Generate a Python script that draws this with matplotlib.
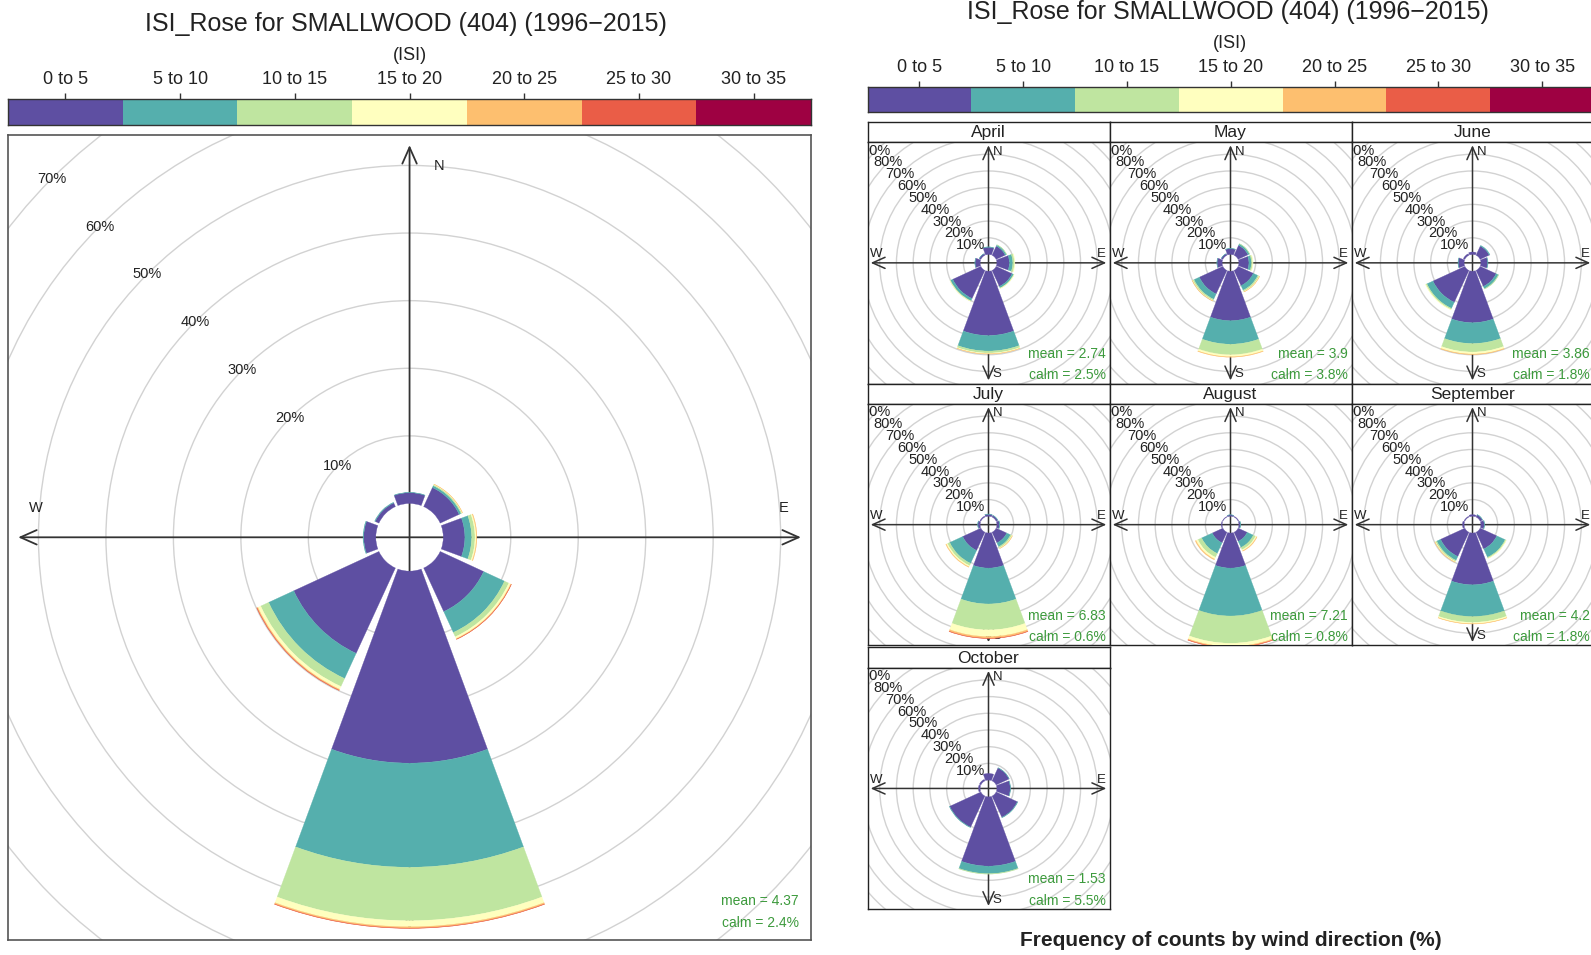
import matplotlib
matplotlib.use("Agg")
import matplotlib.pyplot as plt
from matplotlib.patches import Wedge, Circle
import numpy as np

plt.rcParams['font.family'] = ['Liberation Sans', 'DejaVu Sans']

# ---------------- data ----------------
directions = ["N", "NE", "E", "SE", "S", "SW", "W", "NW"]
bearings = [0, 45, 90, 135, 180, 225, 270, 315]
isi_bins = ["0 to 5", "5 to 10", "10 to 15", "15 to 20", "20 to 25", "25 to 30", "30 to 35"]
bin_colors = ["#5E4FA2", "#55AFAD", "#BFE5A0", "#FFFFBF", "#FDBF6F", "#EA5D47", "#9E0142"]

# frequency (%) per direction (rows N..NW) and ISI class (columns)
freq_all = [
    [1.6, 0.05, 0, 0, 0, 0, 0],
    [3.1, 0.3, 0.15, 0.08, 0.03, 0, 0],
    [3.2, 1.0, 0.5, 0.2, 0.08, 0, 0],
    [7.1, 3.4, 0.7, 0.3, 0.1, 0.03, 0],
    [28.4, 15.4, 7.9, 0.9, 0.2, 0.05, 0],
    [13.9, 4.1, 1.3, 0.45, 0.15, 0.05, 0],
    [1.8, 0.1, 0, 0, 0, 0, 0],
    [0.6, 0.1, 0, 0, 0, 0, 0],
]
freq_apr = [
    [4.3, 0.3, 0, 0, 0, 0, 0],
    [6.0, 0.8, 0.2, 0, 0, 0, 0],
    [7.5, 2.0, 1.0, 0.3, 0, 0, 0],
    [10.5, 1.0, 0.3, 0.1, 0, 0, 0],
    [38.5, 9.3, 1.2, 0.5, 0.1, 0, 0],
    [18.5, 1.5, 0.3, 0.1, 0, 0, 0],
    [3.0, 0.2, 0, 0, 0, 0, 0],
    [1.0, 0.1, 0, 0, 0, 0, 0],
]
freq_may = [
    [3.5, 0.2, 0, 0, 0, 0, 0],
    [6.5, 1.0, 0.2, 0, 0, 0, 0],
    [6.0, 1.5, 0.7, 0.3, 0, 0, 0],
    [10.0, 3.0, 0.8, 0.3, 0.1, 0, 0],
    [29.6, 14.1, 6.3, 1.2, 0.3, 0, 0],
    [15.5, 3.5, 0.8, 0.3, 0.1, 0, 0],
    [3.0, 0.2, 0, 0, 0, 0, 0],
    [1.0, 0.1, 0, 0, 0, 0, 0],
]
freq_jun = [
    [1.5, 0, 0, 0, 0, 0, 0],
    [6.0, 0.5, 0, 0, 0, 0, 0],
    [4.0, 0.3, 0, 0, 0, 0, 0],
    [10.5, 1.5, 0.3, 0, 0, 0, 0],
    [30.8, 12.5, 5.1, 1.2, 0.3, 0, 0],
    [21.0, 4.0, 0.7, 0.3, 0, 0, 0],
    [3.5, 0.2, 0, 0, 0, 0, 0],
    [1.0, 0, 0, 0, 0, 0, 0],
]
freq_jul = [
    [1.2, 0.2, 0, 0, 0, 0, 0],
    [1.0, 0.2, 0, 0, 0, 0, 0],
    [1.5, 0.3, 0, 0, 0, 0, 0],
    [7.0, 2.5, 0.8, 0.4, 0.1, 0, 0],
    [21.0, 21.5, 15.5, 4.0, 1.0, 0.2, 0],
    [12.0, 8.5, 1.5, 0.8, 0.3, 0, 0],
    [1.3, 0.2, 0, 0, 0, 0, 0],
    [0.6, 0, 0, 0, 0, 0, 0],
]
freq_aug = [
    [0.8, 0.1, 0, 0, 0, 0, 0],
    [0.4, 0, 0, 0, 0, 0, 0],
    [0.8, 0.3, 0, 0, 0, 0, 0],
    [6.0, 4.0, 1.5, 0.7, 0.3, 0, 0],
    [21.0, 28.7, 16.3, 1.9, 0.6, 0.2, 0],
    [7.0, 7.0, 2.5, 1.2, 0.5, 0, 0],
    [0.5, 0, 0, 0, 0, 0, 0],
    [0.3, 0, 0, 0, 0, 0, 0],
]
freq_sep = [
    [1.0, 0, 0, 0, 0, 0, 0],
    [1.5, 0.2, 0, 0, 0, 0, 0],
    [2.0, 0.3, 0, 0, 0, 0, 0],
    [11.0, 5.5, 0.6, 0.2, 0, 0, 0],
    [31.0, 19.0, 3.5, 0.8, 0.2, 0, 0],
    [16.0, 2.5, 0.8, 0.4, 0.1, 0, 0],
    [1.0, 0, 0, 0, 0, 0, 0],
    [0.5, 0, 0, 0, 0, 0, 0],
]
freq_oct = [
    [4.0, 0, 0, 0, 0, 0, 0],
    [8.5, 0.2, 0, 0, 0, 0, 0],
    [8.0, 0.2, 0, 0, 0, 0, 0],
    [14.0, 0.3, 0, 0, 0, 0, 0],
    [41.5, 4.5, 0.3, 0, 0, 0, 0],
    [20.5, 0.3, 0, 0, 0, 0, 0],
    [1.0, 0, 0, 0, 0, 0, 0],
    [1.0, 0, 0, 0, 0, 0, 0],
]

months = ["April", "May", "June", "July", "August", "September", "October"]
month_freqs = [freq_apr, freq_may, freq_jun, freq_jul, freq_aug, freq_sep, freq_oct]
month_means = [2.74, 3.9, 3.86, 6.83, 7.21, 4.2, 1.53]
month_calms = [2.5, 3.8, 1.8, 0.6, 0.8, 1.8, 5.5]
all_mean = 4.37
all_calm = 2.4
title = "ISI_Rose for SMALLWOOD (404) (1996\u22122015)"

# ---------------- figure ----------------
W, H = 1591, 955
fig = plt.figure(figsize=(W / 100, H / 100), dpi=100)
fig.patch.set_facecolor("white")

def add_ax(x0, y0, x1, y1):
    return fig.add_axes([x0 / W, 1 - y1 / H, (x1 - x0) / W, (y1 - y0) / H])

def ftext(x, y, s, **kw):
    fig.text(x / W, 1 - y / H, s, **kw)

OFF = 5.0
HALF = 20.25
GREEN = "#3C9A3C"

def draw_rose(ax, freq, L, A, ring_fs, comp_fs, axis_col, head_scale, arrow_lw, max_lab):
    ax.set_xlim(-L, L)
    ax.set_ylim(-L, L)
    ax.set_xticks([])
    ax.set_yticks([])
    for p in range(10, 110, 10):
        ax.add_patch(Circle((0, 0), OFF + p, fill=False, ec="#d2d2d2", lw=1.0, zorder=1))
        d = (OFF + p) / np.sqrt(2)
        if p <= max_lab:
            ax.text(-d, d, f"{p}%", ha="center", va="center", fontsize=ring_fs,
                    color="#222222", zorder=4, clip_on=True)
    style = "<->,head_length=0.9,head_width=0.4"
    ax.annotate("", xy=(A, 0), xytext=(-A, 0),
                arrowprops=dict(arrowstyle=style, lw=arrow_lw, color=axis_col,
                                shrinkA=0, shrinkB=0, mutation_scale=head_scale), zorder=2)
    ax.annotate("", xy=(0, A), xytext=(0, -A),
                arrowprops=dict(arrowstyle=style, lw=arrow_lw, color=axis_col,
                                shrinkA=0, shrinkB=0, mutation_scale=head_scale), zorder=2)
    for lab, (x, y) in zip(["N", "E", "S", "W"],
                           [(0.075, 0.947), (0.955, 0.075), (0.075, -0.947), (-0.955, 0.075)]):
        ax.text(x * A, y * A, lab, ha="center", va="center", fontsize=comp_fs,
                color="#222222", zorder=2)
    for i, b in enumerate(bearings):
        cum = OFF
        for j, v in enumerate(freq[i]):
            if v <= 0:
                continue
            ax.add_patch(Wedge((0, 0), cum + v, 90 - b - HALF, 90 - b + HALF, width=v,
                               fc=bin_colors[j], ec=bin_colors[j], lw=0.2, zorder=3))
            cum += v

def colorbar(x0, x1, y0, y1):
    cax = add_ax(x0, y0, x1, y1)
    cax.bar(range(len(isi_bins)), [1] * len(isi_bins), width=1.0, color=bin_colors, edgecolor="none")
    cax.set_xlim(-0.5, len(isi_bins) - 0.5)
    cax.set_ylim(0, 1)
    cax.set_yticks([])
    cax.xaxis.tick_top()
    cax.set_xticks(range(len(isi_bins)))
    cax.set_xticklabels(isi_bins, fontsize=13, color="#222222")
    cax.tick_params(axis="x", length=4.5, width=1, pad=3.5, color="#333333")
    for s in cax.spines.values():
        s.set_color("#333333")
        s.set_linewidth(1.0)

# ---------------- left panel ----------------
ftext(405.5, 24, title, ha="center", va="center", fontsize=18, color="#222222")
ftext(410, 56, "(ISI)", ha="center", va="center", fontsize=13, color="#222222")
colorbar(8.1, 811, 99.4, 124.8)

axL = add_ax(8.1, 135, 811, 939.6)
draw_rose(axL, freq_all, 59.5, 58, 10.5, 10.5, "#333333", 13, 1.3, 80)
for s in axL.spines.values():
    s.set_color("#555555")
    s.set_linewidth(1.2)
axL.text(0.9845, 0.048, f"mean = {all_mean:g}", transform=axL.transAxes, ha="right",
         va="center", fontsize=10, color=GREEN, zorder=5)
axL.text(0.9845, 0.021, f"calm = {all_calm:g}%", transform=axL.transAxes, ha="right",
         va="center", fontsize=10, color=GREEN, zorder=5)

# ---------------- right panels ----------------
ftext(1228, 12.5, title, ha="center", va="center", fontsize=18, color="#222222")
ftext(1230, 44, "(ISI)", ha="center", va="center", fontsize=13, color="#222222")
colorbar(867.5, 1594, 87.3, 111.6)

col_x = [867.5, 1109.5, 1351.5]
row_y = [121.8, 383.6, 647.4]
PW = 242
SH = 20.3
PH = 241.5
for k, m in enumerate(months):
    r, c = divmod(k, 3)
    x0 = col_x[c]
    y0 = row_y[r]
    sax = add_ax(x0, y0, x0 + PW, y0 + SH)
    sax.set_xticks([])
    sax.set_yticks([])
    sax.set_facecolor("white")
    sax.text(0.5, 0.47, m, ha="center", va="center", fontsize=12.5, color="#222222",
             transform=sax.transAxes)
    for s in sax.spines.values():
        s.set_color("#222222")
        s.set_linewidth(1.0)
    pax = add_ax(x0, y0 + SH, x0 + PW, y0 + SH + PH)
    draw_rose(pax, month_freqs[k], 72.3, 70.4, 10.5, 9.5, "#333333", 10, 1.1, 90)
    for s in pax.spines.values():
        s.set_color("#222222")
        s.set_linewidth(1.0)
    pax.text(0.9855, 0.123, f"mean = {month_means[k]:g}", transform=pax.transAxes, ha="right",
             va="center", fontsize=10, color=GREEN, zorder=5)
    pax.text(0.9855, 0.034, f"calm = {month_calms[k]:g}%", transform=pax.transAxes, ha="right",
             va="center", fontsize=10, color=GREEN, zorder=5)

ftext(1231, 940, "Frequency of counts by wind direction (%)", ha="center", va="center",
      fontsize=15, fontweight="bold", color="#222222")

fig.savefig("out.png", dpi=100, facecolor="white")
